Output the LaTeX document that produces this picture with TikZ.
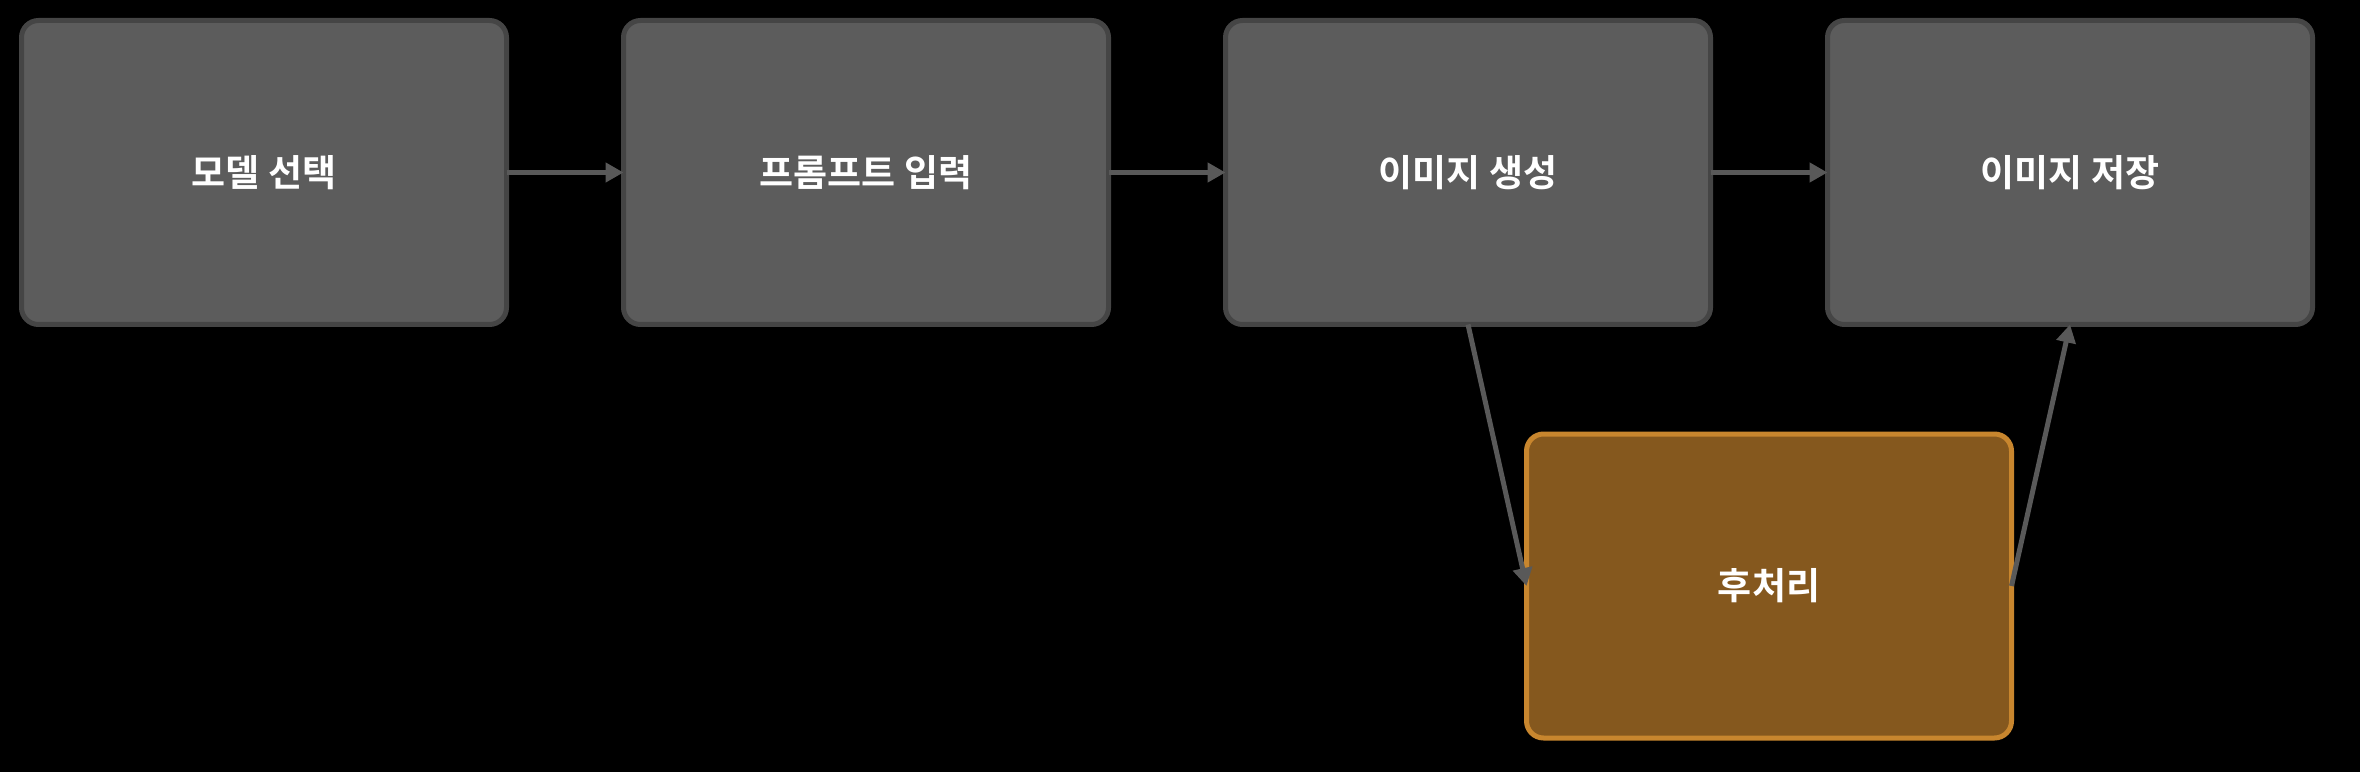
\documentclass[tikz,border=0pt]{standalone}
\usepackage{fontspec}
\newfontfamily\kr{Noto Sans CJK KR}[BoldFont={* Bold}]
\usetikzlibrary{arrows.meta}
\definecolor{boxfill}{HTML}{5C5C5C}
\definecolor{boxline}{HTML}{454545}
\definecolor{postfill}{HTML}{85581E}
\definecolor{postline}{HTML}{C8862E}
\definecolor{arrowcol}{HTML}{595959}
\tikzset{
  stepbox/.style={draw=boxline, fill=boxfill, line width=2.5pt, rounded corners=8.5pt,
    minimum width=242.5pt, minimum height=152pt, inner sep=0pt, outer sep=0pt,
    text=white, font=\kr\bfseries\fontsize{18.5}{22}\selectfont},
  postbox/.style={stepbox, draw=postline, fill=postfill},
  flow/.style={draw=arrowcol, line width=2.5pt, -{Triangle[length=9pt,width=9.5pt]}}
}
\begin{document}
\begin{tikzpicture}[x=0.5pt,y=0.5pt]
\fill[black] (0,0) rectangle (2360,772);
\useasboundingbox (0,0) rectangle (2360,772);
\node[stepbox] (a) at (264,599.5) {모델 선택};
\node[stepbox] (b) at (866,599.5) {프롬프트 입력};
\node[stepbox] (c) at (1468,599.5) {이미지 생성};
\node[stepbox] (d) at (2070,599.5) {이미지 저장};
\node[postbox] (e) at (1769,186) {후처리};
\draw[flow] (a.east) -- (b.west);
\draw[flow] (b.east) -- (c.west);
\draw[flow] (c.east) -- (d.west);
\draw[flow] (c.south) -- (e.west);
\draw[flow] (e.east) -- (d.south);
\end{tikzpicture}
\end{document}
